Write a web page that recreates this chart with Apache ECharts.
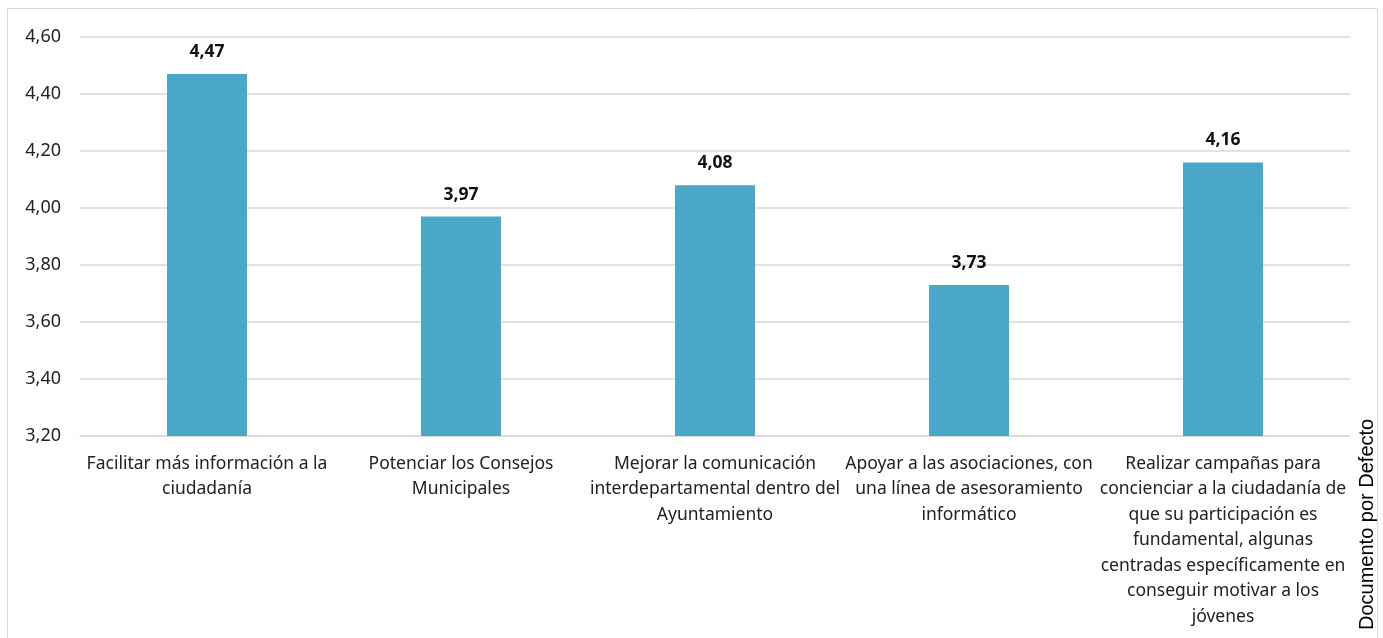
<!DOCTYPE html>
<html><head><meta charset="utf-8">
<script src="https://cdn.jsdelivr.net/npm/echarts@6/dist/echarts.min.js"></script>
<style>html,body{margin:0;padding:0;background:#fff}#c{width:1383px;height:638px}</style>
</head><body><div id="c"></div>
<script>
const categories = [
  "Facilitar más información a la\nciudadanía",
  "Potenciar los Consejos\nMunicipales",
  "Mejorar la comunicación\ninterdepartamental dentro del\nAyuntamiento",
  "Apoyar a las asociaciones, con\nuna línea de asesoramiento\ninformático",
  "Realizar campañas para\nconcienciar a la ciudadanía de\nque su participación es\nfundamental, algunas\ncentradas específicamente en\nconseguir motivar a los\njóvenes"
];
const values = [4.47, 3.97, 4.08, 3.73, 4.16];
const sideTitle = "Documento por Defecto";

const FONT = "'Noto Sans', 'Open Sans', sans-serif";
const chart = echarts.init(document.getElementById('c'));
chart.setOption({
  animation: false,
  backgroundColor: '#fff',
  graphic: [
    {type:'rect', shape:{x:7.5,y:8.5,width:1370,height:640}, style:{fill:'none',stroke:'#d9d9d9',lineWidth:1}},
    {type:'text', x:1367, y:630, rotation:Math.PI/2, style:{text:sideTitle, font:"20px 'Liberation Sans', Arial, sans-serif", fill:'#000', textAlign:'left', textVerticalAlign:'middle'}}
  ],
  grid: {left:80, right:33, top:37, bottom:202, containLabel:false},
  xAxis: {
    type:'category', data:categories,
    axisLine:{lineStyle:{color:'#d9d9d9', width:1.5}},
    axisTick:{show:false},
    axisLabel:{interval:0, color:'#222', fontFamily:FONT, fontSize:17.5, lineHeight:25.5, margin:15, align:'center'}
  },
  yAxis: {
    type:'value', min:3.2, max:4.6, interval:0.2,
    axisLine:{show:false}, axisTick:{show:false},
    splitLine:{lineStyle:{color:'#d9d9d9', width:1.5}},
    axisLabel:{color:'#222', fontFamily:FONT, fontSize:18, margin:19, formatter:v=>v.toFixed(2).replace('.',',')}
  },
  series: [{
    type:'bar', data:values, barWidth:80,
    itemStyle:{color:'#4AA7C8'},
    label:{show:true, position:'top', distance:13, color:'#111', fontWeight:'bold', fontFamily:FONT, fontSize:17.5, formatter:p=>p.value.toFixed(2).replace('.',',')}
  }]
});
</script></body></html>
